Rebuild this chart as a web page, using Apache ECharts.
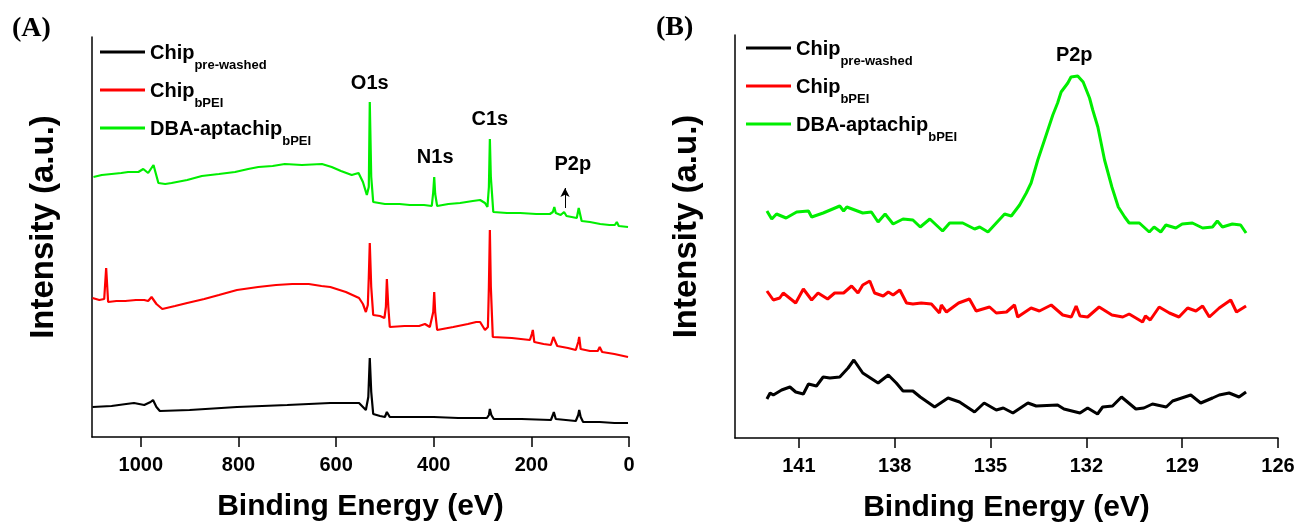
<!DOCTYPE html>
<html>
<head>
<meta charset="utf-8">
<title>XPS spectra</title>
<script src="https://cdn.jsdelivr.net/npm/echarts@6/dist/echarts.min.js"></script>
<style>
  html, body { margin: 0; padding: 0; background: #fff; }
  #chart { width: 1303px; height: 524px; }
</style>
</head>
<body>
<div id="chart"></div>
<script>
// legend names, "_" splits main text and subscript
const sampleNames = ["Chip_pre-washed", "Chip_bPEI", "DBA-aptachip_bPEI"];
const sampleColors = ["#000000", "#ff0000", "#00ee00"];

// (A) survey spectra, [binding energy eV, intensity a.u.]
const surveyPreWashed = [
  [1099, 30], [1060, 31], [1030, 33], [1014, 34], [993, 32], [980, 35], [975, 37], [968, 30],
  [961, 26], [900, 27], [803, 30], [700, 32], [612, 34], [570, 34], [553, 34], [545, 30],
  [539, 27], [534, 40], [531, 79], [528, 45], [524, 23], [510, 21], [500, 20], [496, 25],
  [490, 20], [450, 20], [400, 20], [350, 19], [291, 19], [287, 22], [285, 28], [282, 22],
  [277, 18], [220, 18], [160, 17], [156, 22], [154, 25], [150, 18], [147, 16], [109, 16],
  [104, 22], [102, 27], [99, 20], [94, 15], [60, 15], [30, 14], [2, 14]
];
const surveyBPEI = [
  [1099, 139], [1085, 137], [1075, 138], [1071, 169], [1067, 135], [1050, 136], [1032, 136],
  [1010, 137], [993, 137], [985, 136], [978, 140], [975, 142], [968, 133], [956, 128],
  [930, 131], [905, 134], [870, 138], [840, 142], [803, 147], [760, 150], [723, 152],
  [690, 153], [656, 153], [630, 151], [612, 150], [580, 145], [553, 139], [545, 133],
  [539, 125], [535, 132], [533, 160], [531, 194], [528, 150], [524, 122], [510, 121],
  [501, 119], [498, 130], [496, 158], [493, 130], [490, 110], [460, 111], [430, 111],
  [418, 113], [408, 110], [404, 108], [401, 125], [399, 145], [397, 125], [393, 107],
  [360, 110], [330, 113], [313, 115], [305, 115], [295, 107], [289, 110], [287, 150],
  [285, 207], [283, 150], [279, 100], [240, 99], [203, 97], [199, 103], [197, 107],
  [194, 95], [175, 93], [160, 92], [155, 100], [152, 98], [147, 91], [125, 89], [109, 87],
  [104, 95], [102, 100], [99, 88], [96, 87], [80, 86], [64, 86], [60, 90], [55, 85],
  [30, 83], [2, 80]
];
const surveyAptachip = [
  [1097, 260], [1080, 262], [1060, 263], [1040, 264], [1026, 265], [1005, 265], [995, 268],
  [985, 264], [974, 272], [964, 254], [950, 253], [937, 254], [905, 257], [875, 261],
  [840, 263], [807, 265], [780, 268], [759, 270], [730, 271], [705, 273], [670, 272],
  [629, 273], [609, 270], [590, 266], [568, 262], [554, 264], [545, 255], [537, 242],
  [533, 250], [531, 335], [528, 260], [524, 235], [500, 233], [470, 233], [449, 232],
  [420, 232], [404, 231], [401, 245], [399, 260], [397, 243], [393, 231], [370, 233],
  [346, 234], [320, 236], [305, 237], [295, 234], [290, 230], [287, 250], [285, 298],
  [283, 260], [278, 225], [250, 224], [223, 224], [190, 223], [162, 223], [156, 225],
  [153, 230], [150, 224], [140, 222], [133, 225], [128, 221], [107, 219], [103, 229],
  [101, 227], [97, 216], [80, 215], [59, 213], [40, 212], [29, 212], [25, 215], [21, 211],
  [2, 210]
];

// (B) P2p region
const p2pPreWashed = [
  [142.0, 39], [141.9, 45], [141.8, 43], [141.54, 48], [141.28, 51], [141.1, 46], [140.86, 44],
  [140.7, 54], [140.45, 52], [140.24, 61], [140.03, 60], [139.72, 61], [139.46, 70],
  [139.28, 78], [139.0, 65], [138.52, 55], [138.2, 63], [137.95, 55], [137.74, 47],
  [137.43, 47], [137.2, 41], [136.75, 31], [136.33, 40], [135.97, 36], [135.5, 26],
  [135.2, 35], [134.82, 28], [134.6, 30], [134.3, 25], [133.83, 35], [133.57, 32],
  [132.9, 33], [132.7, 29], [132.2, 25], [131.96, 30], [131.65, 24], [131.49, 31],
  [131.18, 32], [130.9, 41], [130.45, 29], [130.2, 30], [129.93, 34], [129.5, 31],
  [129.3, 37], [128.73, 43], [128.42, 35], [128.05, 40], [127.84, 43], [127.53, 45],
  [127.22, 41], [127.0, 46]
];
const p2pBPEI = [
  [142.0, 147], [141.8, 138], [141.6, 140], [141.49, 145], [141.1, 135], [140.86, 149],
  [140.6, 138], [140.4, 145], [140.1, 139], [139.88, 145], [139.6, 145], [139.35, 152],
  [139.15, 145], [139.0, 153], [138.78, 157], [138.63, 145], [138.36, 142], [138.2, 146],
  [138.05, 143], [137.84, 148], [137.63, 135], [137.43, 134], [137.17, 135], [136.85, 134],
  [136.6, 125], [136.54, 133], [136.38, 126], [136.0, 135], [135.66, 139], [135.45, 127],
  [135.03, 131], [134.82, 125], [134.5, 126], [134.25, 133], [134.15, 121], [133.73, 130],
  [133.47, 127], [133.1, 133], [132.74, 123], [132.47, 121], [132.32, 132], [132.2, 122],
  [131.96, 121], [131.6, 131], [131.2, 123], [130.86, 121], [130.66, 124], [130.24, 116],
  [130.15, 122], [130.0, 118], [129.72, 131], [129.4, 125], [129.1, 121], [128.83, 130],
  [128.57, 127], [128.36, 132], [128.15, 121], [127.84, 130], [127.48, 138], [127.3, 126],
  [127.0, 132]
];
const p2pAptachip = [
  [142.0, 227], [141.85, 219], [141.7, 224], [141.4, 220], [141.07, 226], [140.7, 227],
  [140.6, 221], [140.24, 225], [139.72, 232], [139.6, 227], [139.5, 231], [139.0, 225],
  [138.73, 226], [138.52, 216], [138.3, 224], [138.05, 214], [137.74, 219], [137.43, 218],
  [137.2, 211], [136.9, 219], [136.5, 207], [136.28, 215], [135.87, 215], [135.5, 209],
  [135.34, 211], [135.08, 206], [134.82, 215], [134.56, 224], [134.35, 222], [134.09, 233],
  [133.88, 245], [133.73, 255], [133.52, 278], [133.31, 298], [133.05, 323], [132.9, 335],
  [132.79, 346], [132.58, 355], [132.48, 361], [132.27, 362], [132.1, 356], [131.9, 340],
  [131.8, 328], [131.64, 311], [131.43, 278], [131.2, 251], [131.0, 231], [130.8, 221],
  [130.66, 215], [130.6, 213], [130.34, 215], [130.03, 206], [129.88, 211], [129.67, 206],
  [129.51, 213], [129.2, 210], [129.0, 214], [128.68, 215], [128.36, 210], [128.05, 211],
  [127.9, 217], [127.74, 211], [127.43, 214], [127.17, 213], [127.0, 205]
];

const surveyTicks = [1000, 800, 600, 400, 200, 0];
const p2pTicks = [141, 138, 135, 132, 129, 126];

// peak labels: [text, energy, height]
const surveyPeaks = [["O1s", 531, 354], ["N1s", 397, 280], ["C1s", 285, 318], ["P2p", 115, 273]];
const p2pPeaks = [["P2p", 132.38, 383]];
const p2pArrow = [[131, 229], [131, 249]];

const font = '"Liberation Sans", Arial, Helvetica, sans-serif';
const chart = echarts.init(document.getElementById("chart"), null, { renderer: "canvas" });

function makeLegend(left, top) {
  return {
    orient: "vertical",
    left: left,
    top: top,
    padding: 0,
    itemGap: 2,
    itemWidth: 45,
    itemHeight: 3,
    icon: "rect",
    selectedMode: false,
    data: sampleNames,
    formatter: function (name) {
      const parts = name.split("_");
      return "{a|" + parts[0] + "}{b|" + parts[1] + "}";
    },
    textStyle: {
      color: "#000",
      fontFamily: font,
      rich: {
        a: { fontSize: 20, fontWeight: "bold", fontFamily: font, lineHeight: 22, padding: [2, 0, 12, 0], verticalAlign: "top" },
        b: { fontSize: 13, fontWeight: "bold", fontFamily: font, lineHeight: 13, padding: [18, 0, 5, 0], verticalAlign: "top" }
      }
    }
  };
}

function makeXAxis(gridIndex, min, max, interval, ticks) {
  return {
    type: "value",
    gridIndex: gridIndex,
    min: min,
    max: max,
    interval: interval,
    inverse: true,
    name: "Binding Energy (eV)",
    nameLocation: "middle",
    nameGap: 55,
    nameTextStyle: { fontSize: 30, fontWeight: "bold", fontFamily: font, color: "#000" },
    axisLine: { show: true, onZero: false, lineStyle: { color: "#000", width: 1.5 } },
    axisTick: { show: true, length: 10, customValues: ticks, lineStyle: { color: "#000", width: 1.5 } },
    axisLabel: {
      margin: 18, customValues: ticks, fontSize: 20, fontWeight: "bold", fontFamily: font, color: "#000",
      formatter: function (v) { return String(v); }
    },
    splitLine: { show: false }
  };
}

function makeYAxis(gridIndex, max) {
  return {
    type: "value",
    gridIndex: gridIndex,
    position: "left",
    min: 0,
    max: max,
    name: "Intensity (a.u.)",
    nameLocation: "middle",
    nameGap: 32,
    nameTextStyle: { fontSize: 33, fontWeight: "bold", fontFamily: font, color: "#000", padding: [0, 0, 0, 20] },
    axisLine: { show: true, onZero: false, lineStyle: { color: "#000", width: 1.5 } },
    axisTick: { show: false },
    axisLabel: { show: false },
    splitLine: { show: false }
  };
}

function peakMarks(peaks) {
  return {
    symbolSize: 0,
    silent: true,
    itemStyle: { color: "transparent" },
    label: { show: true, position: "inside", formatter: "{b}", fontSize: 20, fontWeight: "bold", fontFamily: font, color: "#000" },
    data: peaks.map(function (p) { return { name: p[0], coord: [p[1], p[2]] }; })
  };
}

function makeSeries(name, data, idx, panel, width) {
  return {
    name: name,
    type: "line",
    xAxisIndex: panel,
    yAxisIndex: panel,
    data: data,
    symbol: "none",
    showSymbol: false,
    sampling: "none",
    clip: true,
    lineStyle: { color: sampleColors[idx], width: width },
    itemStyle: { color: sampleColors[idx] }
  };
}

const surveySets = [surveyPreWashed, surveyBPEI, surveyAptachip];
const p2pSets = [p2pPreWashed, p2pBPEI, p2pAptachip];
const series = [];
surveySets.forEach(function (d, i) { series.push(makeSeries(sampleNames[i], d, i, 0, 2.2)); });
p2pSets.forEach(function (d, i) { series.push(makeSeries(sampleNames[i], d, i, 1, 3)); });

// labels and arrow sit on the green traces
series[2].markPoint = peakMarks(surveyPeaks);
series[2].markLine = {
  silent: true,
  symbol: ["none", "arrow"],
  symbolSize: [7, 9],
  lineStyle: { color: "#000", width: 1, type: "solid" },
  label: { show: false },
  data: [[{ coord: p2pArrow[0] }, { coord: p2pArrow[1] }]]
};
series[5].markPoint = peakMarks(p2pPeaks);

const option = {
  animation: false,
  backgroundColor: "#fff",
  grid: [
    { left: 92, top: 37, width: 537, height: 400, containLabel: false, outerBoundsMode: "none" },
    { left: 735, top: 35, width: 543, height: 403, containLabel: false, outerBoundsMode: "none" }
  ],
  legend: [makeLegend(100, 41), makeLegend(746, 37)],
  xAxis: [makeXAxis(0, 0, 1100, 200, surveyTicks), makeXAxis(1, 126, 143, 3, p2pTicks)],
  yAxis: [makeYAxis(0, 400), makeYAxis(1, 403)],
  graphic: [
    { type: "text", left: 12, top: 15, style: { text: "(A)", font: 'bold 28px "Liberation Serif", "Times New Roman", serif', fill: "#000" } },
    { type: "text", left: 656, top: 14, style: { text: "(B)", font: 'bold 28px "Liberation Serif", "Times New Roman", serif', fill: "#000" } }
  ],
  series: series
};

chart.setOption(option);
window.addEventListener("resize", function () { chart.resize(); });
</script>
</body>
</html>
